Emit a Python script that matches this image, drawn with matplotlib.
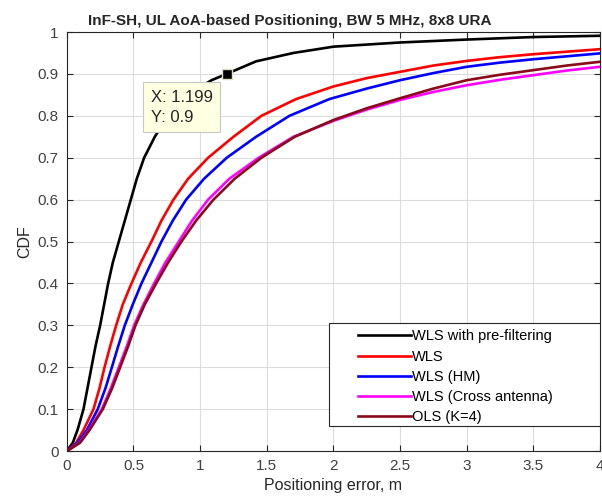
import matplotlib
matplotlib.use('Agg')
import matplotlib.pyplot as plt
from matplotlib.patches import Rectangle

plt.rcParams['font.family'] = ['Liberation Sans', 'DejaVu Sans']

# valores (error en m, CDF)
err_prefilt = [0, 0.045, 0.08, 0.125, 0.155, 0.185, 0.215, 0.25, 0.28, 0.31, 0.345, 0.39, 0.435, 0.48, 0.525, 0.58, 0.66, 0.76, 0.9, 1.086, 1.199, 1.42, 1.7, 2.0, 2.5, 3.0, 3.5, 4.0]
cdf_prefilt = [0, 0.02, 0.05, 0.1, 0.15, 0.2, 0.25, 0.3, 0.35, 0.4, 0.45, 0.5, 0.55, 0.6, 0.65, 0.7, 0.75, 0.8, 0.85, 0.885, 0.9, 0.93, 0.95, 0.965, 0.975, 0.982, 0.988, 0.991]

err_wls = [0, 0.07, 0.125, 0.2, 0.245, 0.283, 0.325, 0.37, 0.42, 0.485, 0.555, 0.635, 0.71, 0.8, 0.91, 1.06, 1.25, 1.46, 1.72, 2.0, 2.25, 2.5, 2.75, 3.0, 3.25, 3.5, 3.75, 4.0]
cdf_wls = [0, 0.02, 0.05, 0.1, 0.15, 0.2, 0.25, 0.3, 0.35, 0.4, 0.45, 0.5, 0.55, 0.6, 0.65, 0.7, 0.75, 0.8, 0.84, 0.87, 0.89, 0.905, 0.92, 0.931, 0.94, 0.947, 0.953, 0.959]

err_hm = [0, 0.08, 0.15, 0.232, 0.29, 0.338, 0.385, 0.435, 0.495, 0.56, 0.635, 0.71, 0.795, 0.895, 1.03, 1.2, 1.42, 1.67, 1.97, 2.25, 2.5, 2.75, 3.0, 3.25, 3.5, 3.75, 4.0]
cdf_hm = [0, 0.02, 0.05, 0.1, 0.15, 0.2, 0.25, 0.3, 0.35, 0.4, 0.45, 0.5, 0.55, 0.6, 0.65, 0.7, 0.75, 0.8, 0.84, 0.865, 0.885, 0.902, 0.917, 0.927, 0.935, 0.942, 0.949]

err_cross = [0, 0.095, 0.165, 0.263, 0.33, 0.39, 0.45, 0.505, 0.575, 0.655, 0.74, 0.84, 0.94, 1.06, 1.22, 1.44, 1.7, 2.0, 2.25, 2.5, 2.75, 3.0, 3.25, 3.5, 3.75, 4.0]
cdf_cross = [0, 0.02, 0.05, 0.1, 0.15, 0.2, 0.25, 0.3, 0.35, 0.4, 0.45, 0.5, 0.55, 0.6, 0.65, 0.7, 0.75, 0.788, 0.815, 0.838, 0.857, 0.873, 0.886, 0.897, 0.908, 0.917]

err_ols = [0, 0.1, 0.17, 0.27, 0.34, 0.4, 0.46, 0.515, 0.585, 0.67, 0.76, 0.86, 0.97, 1.1, 1.26, 1.46, 1.71, 2.0, 2.25, 2.5, 2.75, 3.0, 3.25, 3.5, 3.75, 4.0]
cdf_ols = [0, 0.02, 0.05, 0.1, 0.15, 0.2, 0.25, 0.3, 0.35, 0.4, 0.45, 0.5, 0.55, 0.6, 0.65, 0.7, 0.75, 0.79, 0.818, 0.842, 0.865, 0.885, 0.898, 0.909, 0.92, 0.929]

etiquetas = ['WLS with pre-filtering', 'WLS', 'WLS (HM)', 'WLS (Cross antenna)', 'OLS (K=4)']
colores = ['black', '#ff0000', '#0000ff', '#ff00ff', '#8b0a1a']

tip_x = 1.199
tip_y = 0.9

fig = plt.figure(figsize=(6.02, 5.04), dpi=100)
ax = fig.add_axes([0.111, 0.105, 0.8857, 0.8315])

series = [(err_prefilt, cdf_prefilt), (err_wls, cdf_wls), (err_hm, cdf_hm),
          (err_cross, cdf_cross), (err_ols, cdf_ols)]
for (x, y), lab, c in zip(series, etiquetas, colores):
    ax.plot(x, y, color=c, lw=1.9, label=lab)

# data tip
ax.plot([tip_x], [tip_y], 's', color='black', ms=7, mec='#e0e0c0', zorder=5)
ax.text(0.63, 0.862, 'X: %.3f\nY: %.1f' % (tip_x, tip_y), fontsize=12, color='#262626',
        va='top', ha='left', linespacing=1.4, zorder=6,
        bbox=dict(boxstyle='square,pad=0.45', fc='#ffffe1', ec='#c8c8c8', lw=0.8))

ax.set_xlim(0, 4)
ax.set_ylim(0, 1)
ax.set_xticks([0, 0.5, 1, 1.5, 2, 2.5, 3, 3.5, 4])
ax.set_xticklabels(['0', '0.5', '1', '1.5', '2', '2.5', '3', '3.5', '4'])
ax.set_yticks([i / 10 for i in range(11)])
ax.set_yticklabels(['0', '0.1', '0.2', '0.3', '0.4', '0.5', '0.6', '0.7', '0.8', '0.9', '1'])
ax.grid(True, color='#dcdcdc', lw=0.8)
ax.tick_params(direction='in', top=True, right=True, labelsize=11, colors='#262626',
               labelcolor='#404040', length=4, width=0.8, pad=6)
for s in ax.spines.values():
    s.set_color('#262626')
    s.set_linewidth(0.8)

ax.set_xlabel('Positioning error, m', fontsize=11.5, color='#262626', labelpad=3)
ax.set_ylabel('CDF', fontsize=11.5, color='#262626', labelpad=4)
ax.set_title('InF-SH, UL AoA-based Positioning, BW 5 MHz, 8x8 URA', fontsize=11,
             fontweight='bold', color='#262626', x=0.418, pad=5)

# caja de leyenda estilo matlab (mas ancha que el texto)
ax.add_patch(Rectangle((0.4916, 0.06), 0.5084, 0.246, transform=ax.transAxes,
                       fc='white', ec='#262626', lw=0.8, zorder=4))
leg = ax.legend(loc='upper left', bbox_to_anchor=(0.525, 0.318), fontsize=10.5,
                frameon=False, handlelength=3.6, handletextpad=0.1,
                labelspacing=0.42, borderpad=0.3)
leg.set_zorder(5)

fig.savefig('out.png', dpi=100)
